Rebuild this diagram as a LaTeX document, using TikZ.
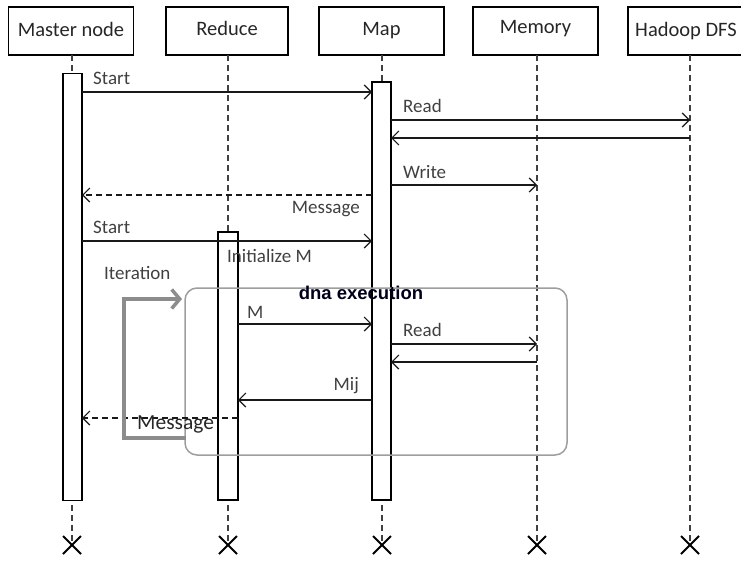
\documentclass[tikz,border=0pt]{standalone}
\usepackage{fontspec}
\setmainfont{Carlito}
\newfontfamily\boldsans{Liberation Sans}
\usetikzlibrary{arrows.meta}
\begin{document}
\begin{tikzpicture}[x=1pt,y=-1pt,
  hdr/.style={draw, line width=1.5pt, minimum height=48pt, inner sep=0pt, font=\fontsize{20.5}{22}\selectfont, text=black!85},
  act/.style={draw, line width=1.4pt, fill=white, minimum width=19pt, inner sep=0pt},
  life/.style={draw=black!75, line width=1.2pt, dash pattern=on 6pt off 4pt},
  msg/.style={draw=black!90, line width=1.2pt, -{Straight Barb[length=7pt,width=14pt,line width=1.2pt]}},
  dmsg/.style={msg, dash pattern=on 6pt off 4pt},
  lbl/.style={font=\fontsize{19}{21}\selectfont, text=black!75, inner sep=0pt},
  xmark/.style={line width=2pt, draw=black},
  grp/.style={draw=black!38, line width=1.5pt, rounded corners=12pt},
  iter/.style={draw=black!45, line width=4pt, -{Straight Barb[length=8pt,width=19pt,line width=3.5pt]}}
]
\useasboundingbox (0,0) rectangle (741,560);

% header boxes
\node[hdr, minimum width=125pt] (hmaster) at (71,31) {\raisebox{4pt}{Master node}};
\node[hdr, minimum width=122pt] (hreduce) at (227,31) {\raisebox{5pt}{Reduce}};
\node[hdr, minimum width=125pt] (hmap) at (381.5,31) {\raisebox{5pt}{Map}};
\node[hdr, minimum width=125pt] (hmemory) at (535.5,31) {\raisebox{8pt}{Memory}};
\node[hdr, minimum width=116pt] (hhadoop) at (686,31) {\raisebox{4pt}{Hadoop DFS}};

% lifeline coordinates
\coordinate (lt1) at (72,55);  \coordinate (lb1) at (72,545);
\coordinate (lt2) at (228,55); \coordinate (lb2) at (228,545);
\coordinate (lt3) at (382,55); \coordinate (lb3) at (382,545);
\coordinate (lt4) at (537,55); \coordinate (lb4) at (537,545);
\coordinate (lt5) at (690,55); \coordinate (lb5) at (690,545);
\foreach \i in {1,...,5} {
  \draw[life] (lt\i) -- (lb\i);
  \draw[xmark] ([shift={(-9,-9)}]lb\i) -- ([shift={(9,9)}]lb\i);
  \draw[xmark] ([shift={(-9,9)}]lb\i) -- ([shift={(9,-9)}]lb\i);
}

% activation bars
\node[act, minimum height=427pt] (amaster) at (72.5,287) {};
\node[act, minimum height=418pt] (amap) at (381.5,291) {};
\node[act, minimum height=268pt, minimum width=20pt] (areduce) at (228,366) {};

% group box
\draw[grp] (185,288) rectangle (567,455);
\node[font=\boldsans\bfseries\fontsize{18.5}{20}\selectfont, text=black!90!blue, inner sep=0pt] (dna) at (361,293) {dna execution};

% messages
\coordinate (m1a) at (82,92);   \coordinate (m1b) at (372,92);
\coordinate (m2a) at (391,120); \coordinate (m2b) at (690,120);
\coordinate (m3a) at (690,138); \coordinate (m3b) at (391,138);
\coordinate (m4a) at (391,185); \coordinate (m4b) at (537,185);
\coordinate (m5a) at (372,195); \coordinate (m5b) at (82,195);
\coordinate (m6a) at (82,241);  \coordinate (m6b) at (372,241);
\coordinate (m7a) at (238,324); \coordinate (m7b) at (372,324);
\coordinate (m8a) at (391,344); \coordinate (m8b) at (537,344);
\coordinate (m9a) at (537,362); \coordinate (m9b) at (391,362);
\coordinate (m10a) at (372,400); \coordinate (m10b) at (238,400);
\coordinate (m11a) at (238,418); \coordinate (m11b) at (82,418);

\draw[msg] (m1a) -- (m1b);
\draw[msg] (m2a) -- (m2b);
\draw[msg] (m3a) -- (m3b);
\draw[msg] (m4a) -- (m4b);
\draw[dmsg] (m5a) -- (m5b);
\draw[msg] (m6a) -- (m6b);
\draw[msg] (m7a) -- (m7b);
\draw[msg] (m8a) -- (m8b);
\draw[msg] (m9a) -- (m9b);
\draw[msg] (m10a) -- (m10b);
\draw[dmsg] (m11a) -- (m11b);

% labels
\node[lbl, anchor=west] (t1) at (93,78) {Start};
\node[lbl, anchor=west] (t2) at (403,106) {Read};
\node[lbl, anchor=west] (t4) at (403,172) {Write};
\node[lbl, anchor=east] (t5) at (360,209) {Message};
\node[lbl, anchor=west] (t6) at (93,227) {Start};
\node[lbl, anchor=west] (t7) at (227,256) {Initialize M};
\node[lbl, anchor=west] (t8) at (104,273) {Iteration};
\node[lbl, anchor=west] (t9) at (247,312) {M};
\node[lbl, anchor=west] (t10) at (403,330) {Read};
\node[lbl, anchor=east] (t11) at (359,386) {Mij};
\node[lbl, anchor=west, font=\fontsize{21.5}{23}\selectfont, text=black!85] (t12) at (137,424) {Message};

% iteration loop arrow
\coordinate (i0) at (186,438);
\coordinate (i1) at (124,438);
\coordinate (i2) at (124,299);
\coordinate (i3) at (182,299);
\draw[iter] (i0) -- (i1) -- (i2) -- (i3);
\end{tikzpicture}
\end{document}
